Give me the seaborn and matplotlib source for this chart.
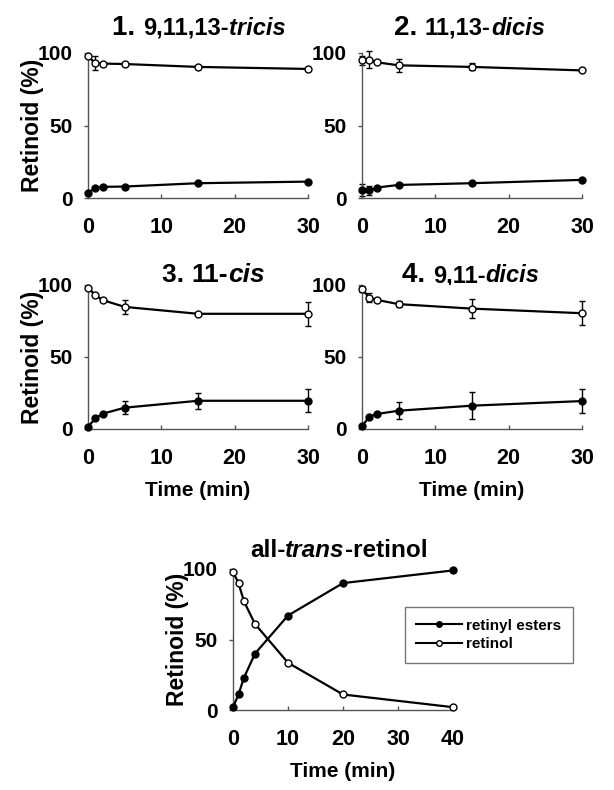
import numpy as np
import pandas as pd
import seaborn as sns
import matplotlib.pyplot as plt

# time points (min)
t_cis = [0, 1, 2, 5, 15, 30]
t_trans = [0, 1, 2, 4, 10, 20, 40]

# panel 1: 9,11,13-tricis
p1_retinol = [97.7, 93, 92.7, 92.4, 90.4, 89]
p1_retinol_err = [0, 5, 0, 0, 0, 0]
p1_esters = [3.4, 7.2, 7.7, 7.9, 10.2, 11.3]
p1_esters_err = [0, 0, 0, 0, 0, 0]

# panel 2: 11,13-dicis
p2_retinol = [95, 95.4, 93.6, 91.5, 90.4, 88]
p2_retinol_err = [3, 6, 0, 4.5, 2.4, 0]
p2_esters = [5.7, 5.2, 7.2, 9, 10.2, 12.5]
p2_esters_err = [4, 3.2, 0, 0, 0, 0]

# panel 3: 11-cis
p3_retinol = [98.2, 93, 89.5, 84.8, 80, 80]
p3_retinol_err = [0, 0, 0, 4.7, 0, 8.4]
p3_esters = [1.5, 7.4, 10.6, 14.8, 19.6, 19.6]
p3_esters_err = [0, 0, 0, 4.5, 5.7, 8]

# panel 4: 9,11-dicis
p4_retinol = [97, 91.3, 89.7, 86.7, 83.6, 80.4]
p4_retinol_err = [2, 3, 0, 2.3, 6.8, 8.5]
p4_esters = [2, 8.5, 10.4, 12.7, 16.2, 19.4]
p4_esters_err = [0, 0, 0, 5.8, 9.6, 8.4]

# all-trans-retinol
at_esters = [2, 11, 23, 40, 67, 90, 99]
at_retinol = [98, 90, 77, 61, 33.5, 11, 2]

FONT = 'Liberation Sans'
plt.rcParams['font.family'] = [FONT, 'DejaVu Sans']
plt.rcParams['font.weight'] = 'bold'

fig = plt.figure(figsize=(6.14, 7.9), dpi=100)
W, H = 614, 790


def px_axes(x0, x1, y_top, y_bot):
    return fig.add_axes([x0 / W, 1 - y_bot / H, (x1 - x0) / W, (y_bot - y_top) / H])


def style_axes(ax, xmax, xticks, ylabel, xlabel):
    sns.despine(ax=ax)
    for s in ['left', 'bottom']:
        ax.spines[s].set_color('#555555')
        ax.spines[s].set_linewidth(1.0)
    ax.set_xlim(0, xmax)
    ax.set_ylim(0, 100)
    ax.set_xticks(xticks)
    ax.set_yticks([0, 50, 100])
    ax.tick_params(axis='x', direction='in', length=3, width=1, color='#555555',
                   labelsize=15.5, pad=14)
    ax.tick_params(axis='y', direction='out', length=3, width=1, color='#555555',
                   labelsize=15, pad=8)
    for lab in ax.get_xticklabels() + ax.get_yticklabels():
        lab.set_fontweight('bold')
    if ylabel:
        ax.set_ylabel('Retinoid (%)', fontsize=16.5, fontweight='bold')
        ax.yaxis.set_label_coords(-0.2, 0.5)
    else:
        ax.set_ylabel('')
    if xlabel:
        ax.set_xlabel('Time (min)', fontsize=15, fontweight='bold', labelpad=8)
    else:
        ax.set_xlabel('')


def draw_series(ax, t, y, err, filled, label=None):
    df = pd.DataFrame({'t': t, 'y': y})
    sns.lineplot(data=df, x='t', y='y', ax=ax, color='black', linewidth=1.6,
                 marker='o', markersize=5, markeredgecolor='black',
                 markeredgewidth=1.0,
                 markerfacecolor='black' if filled else 'white',
                 clip_on=False, zorder=3, label=label, legend=False)
    if err is not None:
        e = np.array(err, dtype=float)
        m = e > 0
        if m.any():
            ax.errorbar(np.array(t)[m], np.array(y)[m], yerr=e[m], fmt='none',
                        ecolor='black', elinewidth=1.0, capsize=2.5,
                        capthick=1.0, clip_on=False, zorder=2)


def title_parts(x_px, base_px, parts):
    prev = None
    yb = 1 - base_px / H
    for txt, size, italic in parts:
        kw = dict(fontsize=size, fontweight='bold',
                  style='italic' if italic else 'normal', va='baseline')
        if prev is None:
            prev = fig.text(x_px / W, yb, txt, ha='left', **kw)
        else:
            prev = fig.axes[0].annotate(txt, xy=(1, yb),
                                        xycoords=(prev, 'figure fraction'),
                                        ha='left', annotation_clip=False, **kw)


panels = [
    (88, 308, 53, 198, p1_retinol, p1_retinol_err, p1_esters, p1_esters_err, True, False),
    (362, 582, 53, 198, p2_retinol, p2_retinol_err, p2_esters, p2_esters_err, False, False),
    (88, 308, 285, 429, p3_retinol, p3_retinol_err, p3_esters, p3_esters_err, True, True),
    (362, 582, 285, 429, p4_retinol, p4_retinol_err, p4_esters, p4_esters_err, False, True),
]

for x0, x1, yt, yb, ret, ret_e, est, est_e, yl, xl in panels:
    ax = px_axes(x0, x1, yt, yb)
    draw_series(ax, t_cis, est, est_e, True)
    draw_series(ax, t_cis, ret, ret_e, False)
    style_axes(ax, 30, [0, 10, 20, 30], yl, xl)

title_parts(112, 35, [('1. ', 20, False), ('9,11,13-', 17, False), ('tricis', 17, True)])
title_parts(394, 35, [('2. ', 20, False), ('11,13-', 17, False), ('dicis', 17, True)])
title_parts(162, 282, [('3. ', 19, False), ('11-', 19, False), ('cis', 19, True)])
title_parts(402, 282, [('4. ', 20, False), ('9,11-', 17, False), ('dicis', 17, True)])

ax5 = px_axes(233, 453, 569, 710)
draw_series(ax5, t_trans, at_esters, None, True, label='retinyl esters')
draw_series(ax5, t_trans, at_retinol, None, False, label='retinol')
style_axes(ax5, 40, [0, 10, 20, 30, 40], True, True)
leg = ax5.legend(loc='upper left', bbox_to_anchor=(0.78, 0.73),
                 frameon=True, fancybox=False, handlelength=3.0,
                 borderpad=0.75, labelspacing=0.3, handletextpad=0.3,
                 borderaxespad=0, prop={'weight': 'bold', 'size': 11})
leg.get_frame().set_edgecolor('#555555')
leg.get_frame().set_linewidth(1.0)
for line in leg.get_lines():
    line.set_linewidth(1.5)
    line.set_markersize(4)

title_parts(250, 557, [('all-', 17.5, False), ('trans', 17.5, True), ('-retinol', 17.5, False)])

fig.savefig('out.png', dpi=100)
